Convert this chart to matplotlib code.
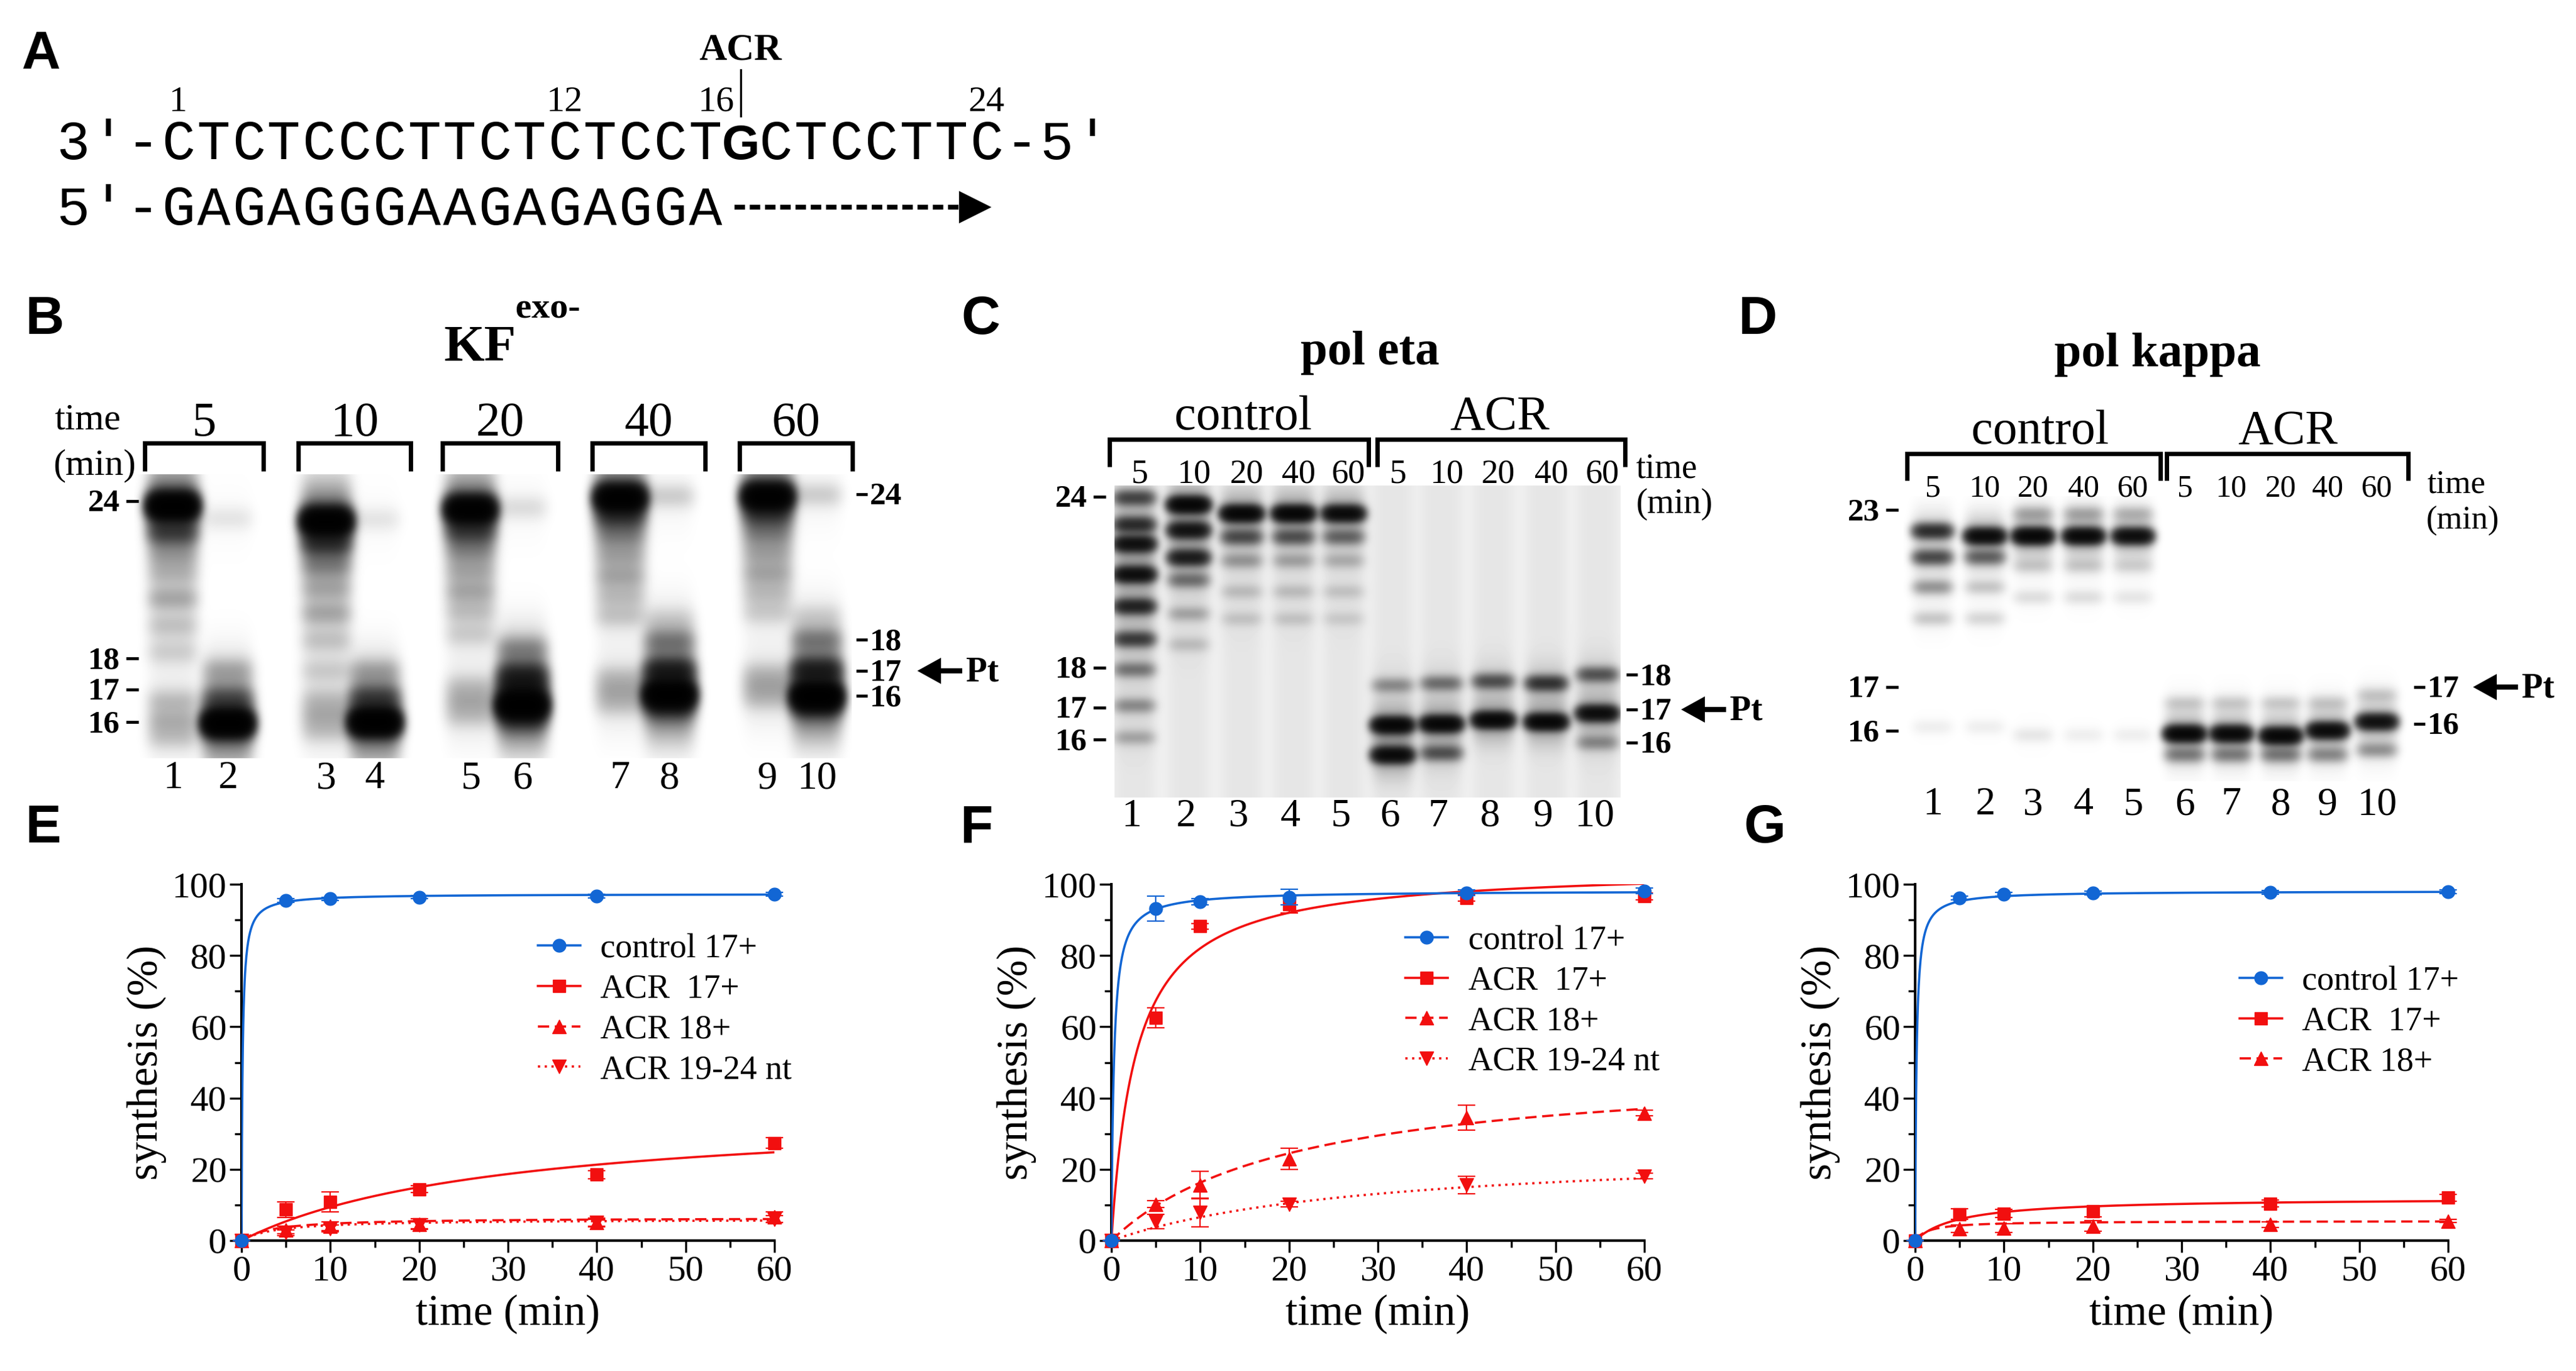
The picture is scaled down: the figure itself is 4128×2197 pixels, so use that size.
import numpy as np
import matplotlib
matplotlib.use('Agg')
import matplotlib.pyplot as plt
from matplotlib.patches import Polygon
from matplotlib.lines import Line2D

W, H = 4128, 2197
SERIF = ['Liberation Serif', 'DejaVu Serif']
SANS = 'Liberation Sans'
MONO = 'Liberation Mono'
BLUE = '#1266d4'
RED = '#f20f0f'
plt.rcParams['font.family'] = SERIF

# ---------------- panel A : sequence ----------------
TEMPLATE = "CTCTCCCTTCTCTCCTGCTCCTTC"
PRIMER = "GAGAGGGAAGAGAGGA"
LESION_POS = 17
POS_LABELS = [1, 12, 16, 24]

# ---------------- gel data: (lane, length in nt, intensity) ----------------
B_LANE_X = [277, 365, 523, 601, 754, 837, 994, 1073, 1230, 1309]
B_MARK_NT = [16, 17, 18, 24]
B_LEFT_Y = [1157, 1105, 1055, 803]
B_RIGHT_Y = [1115, 1075, 1025, 792]
B_TIMES = ['5', '10', '20', '40', '60']
B_BANDS = [
    (1, 23.8, 1.6), (1, 22.8, 0.25), (1, 21.9, 0.06), (1, 21.2, 0.06), (1, 20.25, 0.1),
    (1, 19.2, 0.06), (1, 18.2, 0.05), (1, 16.6, 0.07), (1, 16.0, 0.08), (1, 15.5, 0.06),
    (2, 15.85, 1.6), (2, 16.6, 0.2), (2, 17.55, 0.08), (2, 23.3, 0.03),
    (3, 23.15, 1.5), (3, 22.3, 0.3), (3, 21.4, 0.1), (3, 20.5, 0.08), (3, 19.55, 0.1),
    (3, 18.5, 0.06), (3, 17.45, 0.05), (3, 16.5, 0.06), (3, 16.0, 0.08), (3, 15.5, 0.06),
    (4, 15.7, 1.6), (4, 16.5, 0.25), (4, 17.4, 0.08), (4, 23.2, 0.03),
    (5, 23.55, 1.4), (5, 22.7, 0.25), (5, 21.9, 0.08), (5, 21.1, 0.07), (5, 20.3, 0.09),
    (5, 19.5, 0.06), (5, 18.6, 0.05), (5, 16.8, 0.06), (5, 16.3, 0.08), (5, 15.8, 0.06),
    (6, 16.1, 1.5), (6, 16.7, 0.3), (6, 17.15, 0.35), (6, 18.0, 0.12), (6, 15.6, 0.2), (6, 23.6, 0.04),
    (7, 23.95, 1.4), (7, 23.2, 0.25), (7, 22.4, 0.08), (7, 21.6, 0.07), (7, 20.8, 0.09),
    (7, 20.0, 0.06), (7, 19.2, 0.06), (7, 17.0, 0.06), (7, 16.5, 0.08), (7, 16.0, 0.06),
    (8, 16.3, 1.5), (8, 17.15, 0.45), (8, 18.15, 0.15), (8, 19.0, 0.04), (8, 15.8, 0.2), (8, 24.0, 0.06),
    (9, 23.95, 1.4), (9, 23.2, 0.22), (9, 22.4, 0.08), (9, 21.6, 0.07), (9, 20.8, 0.09),
    (9, 20.0, 0.06), (9, 19.2, 0.05), (9, 17.0, 0.06), (9, 16.5, 0.08), (9, 16.0, 0.06),
    (10, 16.05, 1.5), (10, 17.05, 0.45), (10, 18.05, 0.15), (10, 19.0, 0.04), (10, 15.6, 0.2), (10, 24.0, 0.06),
]

C_LANE_X = [1818, 1905, 1990, 2073, 2153, 2232, 2310, 2393, 2478, 2560]
C_MARK_NT = [16, 17, 18, 24]
C_LEFT_Y = [1185, 1134, 1070, 796]
C_RIGHT_NT = [16, 17, 18]
C_RIGHT_Y = [1190, 1137, 1081]
C_TIMES = ['5', '10', '20', '40', '60'] * 2
C_BANDS = [
    (1, 23.96, 0.35), (1, 23.02, 0.45), (1, 22.34, 0.75), (1, 21.27, 0.8), (1, 20.15, 0.55),
    (1, 19.0, 0.4), (1, 17.95, 0.2), (1, 17.05, 0.15), (1, 16.06, 0.1),
    (2, 23.72, 1.0), (2, 22.82, 0.7), (2, 21.86, 0.6), (2, 21.07, 0.2), (2, 19.89, 0.1), (2, 18.81, 0.06),
    (3, 23.41, 1.0), (3, 22.58, 0.3), (3, 21.75, 0.12), (3, 20.67, 0.06), (3, 19.71, 0.05),
    (4, 23.41, 1.0), (4, 22.58, 0.28), (4, 21.75, 0.1), (4, 20.67, 0.06), (4, 19.71, 0.05),
    (5, 23.41, 0.9), (5, 22.58, 0.22), (5, 21.75, 0.08), (5, 20.67, 0.05), (5, 19.71, 0.04),
    (6, 16.45, 1.0), (6, 15.51, 0.9), (6, 17.56, 0.15),
    (7, 16.49, 1.0), (7, 15.57, 0.3), (7, 17.61, 0.22),
    (8, 16.61, 1.0), (8, 17.66, 0.32),
    (9, 16.55, 1.0), (9, 17.61, 0.45),
    (10, 16.82, 0.85), (10, 17.83, 0.3), (10, 15.9, 0.15),
]

D_LANE_X = [3097, 3181, 3258, 3339, 3418, 3501, 3576, 3655, 3730, 3809]
D_MARK_NT = [16, 17, 23]
D_LEFT_Y = [1171, 1101, 817]
D_SCALE_Y = [1165, 1101, 817]
D_RIGHT_NT = [16, 17]
D_RIGHT_Y = [1160, 1101]
D_TIMES = ['5', '10', '20', '40', '60'] * 2
D_BANDS = [
    (1, 22.28, 0.5), (1, 21.39, 0.35), (1, 20.38, 0.15), (1, 19.32, 0.07),
    (2, 22.11, 0.9), (2, 21.39, 0.25), (2, 20.38, 0.07), (2, 19.32, 0.05),
    (3, 22.87, 0.1), (3, 22.11, 1.0), (3, 21.1, 0.06), (3, 20.04, 0.04),
    (4, 22.87, 0.1), (4, 22.11, 0.95), (4, 21.1, 0.06), (4, 20.04, 0.04),
    (5, 22.87, 0.08), (5, 22.11, 0.85), (5, 21.1, 0.05), (5, 20.04, 0.03),
    (1, 16.0, 0.02), (2, 16.0, 0.02), (3, 15.8, 0.03), (4, 15.8, 0.02), (5, 15.8, 0.02),
    (6, 15.83, 1.0), (6, 15.3, 0.18), (6, 16.6, 0.06),
    (7, 15.83, 0.95), (7, 15.3, 0.18), (7, 16.6, 0.06),
    (8, 15.78, 1.0), (8, 15.3, 0.18), (8, 16.6, 0.06),
    (9, 15.91, 0.9), (9, 15.3, 0.16), (9, 16.6, 0.06),
    (10, 16.13, 0.8), (10, 15.42, 0.15), (10, 16.8, 0.06),
]

# ---------------- kinetics data ----------------
TIME = [0, 5, 10, 20, 40, 60]

E_CTRL = [0, 95.4, 95.9, 96.4, 96.7, 97.2]
E_CTRL_ERR = [0, 0.5, 0.5, 0.5, 0.5, 0.5]
E_ACR17 = [0, 8.7, 10.8, 14.4, 18.5, 27.4]
E_ACR17_ERR = [0, 2.2, 2.8, 1.0, 1.2, 1.5]
E_ACR18 = [0, 3.0, 4.0, 4.6, 5.1, 6.6]
E_ACR18_ERR = [0, 1.0, 1.2, 1.5, 1.2, 1.5]
E_ACR19 = [0, 2.2, 3.4, 4.3, 5.0, 6.0]
E_ACR19_ERR = [0, 0.8, 1.0, 1.0, 1.0, 1.0]
E_FIT = {'ctrl': (97.3, 0.12), 'acr17': (36.8, 29.1), 'acr18': (6.4, 3.5), 'acr19': (6.0, 4.0)}

F_CTRL = [0, 93.1, 95.1, 96.4, 97.6, 98.1]
F_CTRL_ERR = [0, 3.5, 0.8, 2.2, 0.8, 0.8]
F_ACR17 = [0, 62.6, 88.2, 94.4, 96.2, 96.6]
F_ACR17_ERR = [0, 2.8, 0.8, 2.5, 1.0, 1.0]
F_ACR18 = [0, 10.2, 15.6, 22.9, 34.5, 35.8]
F_ACR18_ERR = [0, 1.0, 3.9, 3.0, 3.5, 0.8]
F_ACR19 = [0, 5.3, 7.9, 10.2, 15.6, 18.1]
F_ACR19_ERR = [0, 2.0, 4.0, 0.8, 2.5, 0.8]
F_FIT = {'ctrl': (98.2, 0.28), 'acr17': (104.8, 2.78), 'acr18': (49.6, 20.5), 'acr19': (26.25, 30.0)}

G_CTRL = [0, 96.2, 97.2, 97.6, 97.7, 97.9]
G_CTRL_ERR = [0, 0.5, 0.5, 0.5, 0.5, 0.5]
G_ACR17 = [0, 7.4, 7.6, 8.2, 10.4, 12.0]
G_ACR17_ERR = [0, 1.5, 1.2, 1.5, 1.0, 1.0]
G_ACR18 = [0, 3.3, 3.5, 4.1, 4.5, 5.5]
G_ACR18_ERR = [0, 1.0, 1.2, 1.5, 0.8, 0.5]
G_FIT = {'ctrl': (98.1, 0.15), 'acr17': (12.0, 5.0), 'acr18': (5.5, 1.5)}

LABELS = {'ctrl': 'control 17+', 'acr17': 'ACR  17+', 'acr18': 'ACR 18+', 'acr19': 'ACR 19-24 nt'}
STYLES = {'ctrl': (BLUE, 'o', '-', 15), 'acr17': (RED, 's', '-', 14),
          'acr18': (RED, '^', (0, (5, 2.5)), 16), 'acr19': (RED, 'v', (0, (1, 2)), 16)}

# ---------------- figure ----------------
fig = plt.figure(figsize=(W / 100, H / 100), dpi=100)
ov = fig.add_axes([0, 0, 1, 1])
ov.set_xlim(0, W)
ov.set_ylim(H, 0)
ov.axis('off')
ov.patch.set_visible(False)


def nt_to_y(nt, nts, ys):
    nts = np.asarray(nts, float)
    ys = np.asarray(ys, float)
    if nt < nts[0]:
        slope = (ys[1] - ys[0]) / (nts[1] - nts[0])
        return ys[0] + (nt - nts[0]) * slope
    return np.interp(nt, nts, ys)


def text(x, y, s, size, **kw):
    ov.text(x, y, s, fontsize=size, **kw)


def letter(x, y, s):
    ov.text(x, y, s, fontsize=62, family=SANS, weight='bold', va='baseline', ha='left')


def bracket(xl, xr, ytop, ybot):
    ov.plot([xl, xl, xr, xr], [ybot, ytop, ytop, ybot], color='k', lw=5,
            solid_joinstyle='miter', solid_capstyle='butt')


def left_marker(xr, y, s):
    ov.text(xr, y + 16, s, fontsize=37, weight='bold', ha='right', va='baseline')
    ov.plot([xr + 10, xr + 30], [y, y], color='k', lw=3.4, solid_capstyle='butt')


def right_marker(xl, y, s):
    ov.plot([xl, xl + 18], [y, y], color='k', lw=3.4, solid_capstyle='butt')
    ov.text(xl + 22, y + 16, s, fontsize=37, weight='bold', ha='left', va='baseline')


def pt_arrow(x_tip, y):
    ov.add_patch(Polygon([[x_tip, y], [x_tip + 38, y - 21], [x_tip + 38, y + 21]],
                         closed=True, color='k', lw=0))
    ov.plot([x_tip + 30, x_tip + 72], [y, y], color='k', lw=6, solid_capstyle='butt')
    ov.text(x_tip + 78, y + 17, 'Pt', fontsize=40, weight='bold', ha='left', va='baseline')


def render_gel(extent, lane_x, bands, ypos, wx, sy, bg=0.0, streak=0.0, halo=0.12):
    x0, x1, y0, y1 = extent
    xs = np.arange(x0, x1) + 0.5
    ys = np.arange(y0, y1) + 0.5
    X, Y = np.meshgrid(xs, ys)
    dens = np.full(X.shape, bg)
    for lx in lane_x:
        dens += streak * np.exp(-np.abs((X - lx) / wx) ** 4)
    for lane, nt, amp in bands:
        xc = lane_x[lane - 1]
        yc = ypos(nt, lane)
        hx = np.exp(-np.abs((X - xc) / wx) ** 4)
        core = np.exp(-0.5 * ((Y - yc) / sy) ** 2)
        wide = np.exp(-0.5 * ((Y - yc) / (3 * sy)) ** 2)
        dens += amp * hx * (core + halo * wide)
    dark = 1 - np.exp(-3.0 * dens)
    ov.imshow(1 - dark, cmap='gray', vmin=0, vmax=1, extent=(x0, x1, y1, y0),
              interpolation='bilinear', aspect='auto', zorder=0)


# ---- panel A ----
letter(35, 110, 'A')
ADV = 56.3
line1 = "3'-" + TEMPLATE + "-5'"
g_idx = 2 + LESION_POS
centers = [117 + i * ADV for i in range(len(line1))]
for i, ch in enumerate(line1):
    if i == g_idx:
        ov.text(centers[i], 255, ch, fontsize=56, family=SANS, weight='bold', ha='center', va='baseline')
    else:
        ov.text(centers[i], 255, ch, fontsize=64, family=MONO, ha='center', va='baseline')
line2 = "5'-" + PRIMER
for i, ch in enumerate(line2):
    ov.text(117 + i * ADV, 360, ch, fontsize=64, family=MONO, ha='center', va='baseline')
for p in POS_LABELS:
    if p == LESION_POS - 1:
        ov.text(centers[g_idx] - 10, 178, str(p), fontsize=42, ha='right', va='baseline')
    else:
        ov.text(centers[p + 2], 178, str(p), fontsize=42, ha='center', va='baseline')
gx = centers[g_idx]
ov.plot([gx, gx], [112, 186], color='k', lw=2.4)
ov.text(gx, 95, 'ACR', fontsize=44, weight='bold', ha='center', va='baseline')
x_tail = 117 + (len(line2) - 0.5) * ADV + 18
x_tip = centers[2 + POS_LABELS[-1]] + 8
ov.plot([x_tail, x_tip - 45], [332, 332], color='k', lw=5.5, ls=(0, (2.2, 1.0)), solid_capstyle='butt')
ov.add_patch(Polygon([[x_tip, 332], [x_tip - 52, 306], [x_tip - 52, 358]], closed=True, color='k', lw=0))

# ---- panel B ----
letter(40, 535, 'B')
text(769, 578, 'KF', 60, weight='bold', ha='center', va='baseline')
text(826, 509, 'exo-', 42, weight='bold', ha='left', va='baseline')
text(87, 688, 'time', 43, ha='left', va='baseline')
text(85, 760, '(min)', 43, ha='left', va='baseline')
for k, t in enumerate(B_TIMES):
    xl, xr = B_LANE_X[2 * k] - 45, B_LANE_X[2 * k + 1] + 57
    bracket(xl, xr, 710, 755)
    text((xl + xr) / 2, 698, t, 56, ha='center', va='baseline')


def b_y(nt, lane):
    w = (B_LANE_X[lane - 1] - 215) / 1165
    return (1 - w) * nt_to_y(nt, B_MARK_NT, B_LEFT_Y) + w * nt_to_y(nt, B_MARK_NT, B_RIGHT_Y)


render_gel((215, 1365, 760, 1215), B_LANE_X, B_BANDS, b_y, wx=40, sy=14, halo=0.2)
for nt, y in zip(B_MARK_NT, B_LEFT_Y):
    left_marker(192, y, str(nt))
for nt, y in zip(B_MARK_NT, B_RIGHT_Y):
    right_marker(1372, y, str(nt))
pt_arrow(1470, B_RIGHT_Y[1])
for i, x in enumerate(B_LANE_X):
    text(x, 1263, str(i + 1), 46, ha='center', va='baseline')

# ---- panel C ----
letter(1540, 535, 'C')
text(2195, 584, 'pol eta', 56, weight='bold', ha='center', va='baseline')
text(1992, 688, 'control', 56, ha='center', va='baseline')
text(2403, 688, 'ACR', 56, ha='center', va='baseline')
bracket(1778, 2193, 704, 748)
bracket(2207, 2604, 704, 748)
for x, t in zip(C_LANE_X, C_TIMES):
    text(x + 8, 774, t, 39, ha='center', va='baseline')
text(2621, 765, 'time', 40, ha='left', va='baseline')
text(2621, 822, '(min)', 40, ha='left', va='baseline')
render_gel((1786, 2597, 778, 1278), C_LANE_X, C_BANDS,
           lambda nt, lane: nt_to_y(nt, C_MARK_NT, C_LEFT_Y), wx=33, sy=8.5, bg=0.02, streak=0.015)
for nt, y in zip(C_MARK_NT, C_LEFT_Y):
    left_marker(1742, y, str(nt))
for nt, y in zip(C_RIGHT_NT, C_RIGHT_Y):
    right_marker(2606, y, str(nt))
pt_arrow(2694, C_RIGHT_Y[1])
for i, x in enumerate(C_LANE_X):
    text(x - 5, 1324, str(i + 1), 46, ha='center', va='baseline')

# ---- panel D ----
letter(2785, 535, 'D')
text(3457, 587, 'pol kappa', 56, weight='bold', ha='center', va='baseline')
text(3269, 711, 'control', 56, ha='center', va='baseline')
text(3666, 711, 'ACR', 56, ha='center', va='baseline')
bracket(3056, 3462, 727, 770)
bracket(3472, 3859, 727, 770)
for x, t in zip(D_LANE_X, D_TIMES):
    text(x, 795, t, 36, ha='center', va='baseline')
text(3890, 790, 'time', 38, ha='left', va='baseline')
text(3888, 848, '(min)', 38, ha='left', va='baseline')
render_gel((3050, 3862, 795, 1252), D_LANE_X, D_BANDS,
           lambda nt, lane: nt_to_y(nt, D_MARK_NT, D_SCALE_Y), wx=32, sy=8.5)
for nt, y in zip(D_MARK_NT, D_LEFT_Y):
    left_marker(3012, y, str(nt))
for nt, y in zip(D_RIGHT_NT, D_RIGHT_Y):
    right_marker(3868, y, str(nt))
pt_arrow(3963, D_RIGHT_Y[1])
for i, x in enumerate(D_LANE_X):
    text(x, 1305, str(i + 1), 46, ha='center', va='baseline')

# ---- panels E, F, G ----
letter(40, 1350, 'E')
letter(1538, 1350, 'F')
letter(2794, 1350, 'G')

panels = [
    (387, {'ctrl': (E_CTRL, E_CTRL_ERR), 'acr17': (E_ACR17, E_ACR17_ERR),
           'acr18': (E_ACR18, E_ACR18_ERR), 'acr19': (E_ACR19, E_ACR19_ERR)}, E_FIT, (0.556, 0.862)),
    (1781, {'ctrl': (F_CTRL, F_CTRL_ERR), 'acr17': (F_ACR17, F_ACR17_ERR),
            'acr18': (F_ACR18, F_ACR18_ERR), 'acr19': (F_ACR19, F_ACR19_ERR)}, F_FIT, (0.552, 0.885)),
    (3069, {'ctrl': (G_CTRL, G_CTRL_ERR), 'acr17': (G_ACR17, G_ACR17_ERR),
            'acr18': (G_ACR18, G_ACR18_ERR)}, G_FIT, (0.609, 0.771)),
]
Y_TOP, Y_BOT, AX_W = 1417, 1988, 854
tfit = np.linspace(0, 60, 1200)
for x0, series, fits, leg_xy in panels:
    ax = fig.add_axes([x0 / W, 1 - Y_BOT / H, AX_W / W, (Y_BOT - Y_TOP) / H])
    ax.patch.set_visible(False)
    handles, labels = [], []
    for key in ['acr19', 'acr18', 'acr17', 'ctrl']:
        if key not in series:
            continue
        vals, err = series[key]
        color, mk, ls, ms = STYLES[key]
        z = 5 if key == 'ctrl' else 4
        vmax, km = fits[key]
        ax.plot(tfit, vmax * tfit / (km + tfit), color=color, lw=2.6, ls=ls, zorder=z)
        ax.errorbar(TIME, vals, yerr=err, fmt='none', ecolor=color, elinewidth=1.6,
                    capsize=10, capthick=1.6, clip_on=False, zorder=z)
        ax.plot(TIME, vals, ls='none', marker=mk, ms=ms, color=color, clip_on=False, zorder=z + 0.5)
    for key in ['ctrl', 'acr17', 'acr18', 'acr19']:
        if key in series:
            color, mk, ls, ms = STYLES[key]
            handles.append(Line2D([], [], color=color, lw=2.6, ls=ls, marker=mk, ms=ms))
            labels.append(LABELS[key])
    ax.set_xlim(0, 60)
    ax.set_ylim(0, 100)
    ax.spines[['top', 'right']].set_visible(False)
    ax.spines['left'].set_linewidth(3)
    ax.spines['bottom'].set_linewidth(3)
    ax.set_xticks(range(0, 61, 10))
    ax.set_xticks(range(5, 60, 10), minor=True)
    ax.set_yticks(range(0, 101, 20))
    ax.set_yticks(range(10, 100, 20), minor=True)
    ax.tick_params(which='major', length=14, width=2.4, labelsize=42, pad=3)
    ax.tick_params(which='minor', length=8, width=2.4)
    ax.set_xlabel('time (min)', fontsize=50, labelpad=8)
    ax.set_ylabel('synthesis (%)', fontsize=50, labelpad=6)
    ax.legend(handles, labels, loc='upper left', bbox_to_anchor=leg_xy, frameon=False,
              prop={'family': SERIF, 'size': 39}, handlelength=1.25, handletextpad=0.6,
              labelspacing=0.26, borderaxespad=0, borderpad=0)

fig.savefig('out.png', dpi=100)
